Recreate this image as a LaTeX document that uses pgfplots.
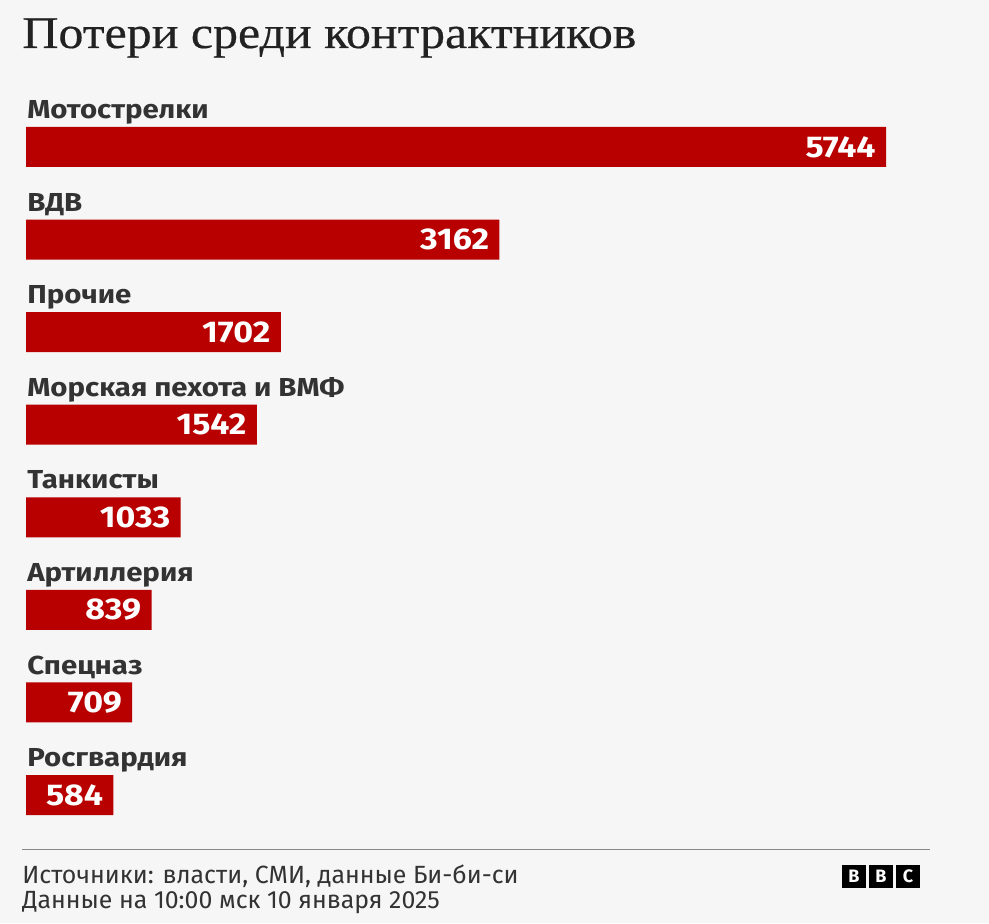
\documentclass[border=0pt]{standalone}
\usepackage{fontspec}
\setmainfont{Fira Sans}
\newfontfamily\lblfont[FakeStretch=1.13]{Fira Sans}
\newfontfamily\titlefont[FakeStretch=1.1, FakeBold=0.4]{Liberation Serif}
\usepackage{pgfplots}
\pgfplotsset{compat=1.18}
\usepackage{pgfplotstable}

\definecolor{bg}{HTML}{F6F6F6}
\definecolor{bbcred}{HTML}{B80000}
\definecolor{txt}{HTML}{333333}
\definecolor{ttl}{HTML}{222222}
\definecolor{rule}{HTML}{8A8A8A}

% i = row from the top, v = losses
\pgfplotstableread{
i v
0 5744
1 3162
2 1702
3 1542
4 1033
5 839
6 709
7 584
}\losses

\begin{document}
\begin{tikzpicture}
% 1px of the reference = 0.5pt
\fill[bg] (0,0) rectangle (494.5pt,461.5pt);
\node[anchor=base west, inner sep=0pt, text=ttl, font=\titlefont\fontsize{22.7pt}{26pt}\selectfont]
  at (11pt,437.5pt) {Потери среди контрактников};

\begin{axis}[
  at={(13pt,411.15pt)}, anchor=north west,
  scale only axis, width=430pt, height=370.3pt,
  xbar, bar width=20pt, bar shift=0pt,
  xmin=0, xmax=5744, ymin=-0.5, ymax=7.5, y dir=reverse,
  hide axis, clip=false,
  /pgf/number format/1000 sep={},
  /pgf/number format/assume math mode=true,
  nodes near coords,
  every node near coord/.append style={anchor=east, xshift=-5pt, inner sep=0pt,
    text=white, font=\lblfont\bfseries\fontsize{15pt}{17pt}\selectfont},
]
\addplot[fill=bbcred, draw=none] table[x=v, y=i] {\losses};

\begin{scope}[every node/.style={anchor=base west, inner sep=0pt, yshift=14.2pt, xshift=0.5pt,
    text=txt, font=\lblfont\bfseries\fontsize{13pt}{15pt}\selectfont}]
\node at (axis cs:0,0) {Мотострелки};
\node at (axis cs:0,1) {ВДВ};
\node at (axis cs:0,2) {Прочие};
\node at (axis cs:0,3) {Морская пехота и ВМФ};
\node at (axis cs:0,4) {Танкисты};
\node at (axis cs:0,5) {Артиллерия};
\node at (axis cs:0,6) {Спецназ};
\node at (axis cs:0,7) {Росгвардия};
\end{scope}
\end{axis}

\draw[rule, line width=0.5pt] (11pt,37pt) -- (465pt,37pt);
\begin{scope}[every node/.style={anchor=base west, inner sep=0pt, text=txt,
    font=\fontsize{12.45pt}{14pt}\selectfont}]
\node at (11pt,20pt) {Источники: власти, СМИ, данные Би-би-си};
\node at (11pt,7.5pt) {Данные на 10:00 мск 10 января 2025};
\end{scope}

\foreach \x/\l in {421/B, 434.5/B, 448/C} {
  \fill[black] (\x pt,17.5pt) rectangle ++(12pt,11.5pt);
  \node[text=white, inner sep=0pt, font=\bfseries\fontsize{9pt}{10pt}\selectfont]
    at (\x pt+6pt,23.25pt) {\l};
}
\end{tikzpicture}
\end{document}
